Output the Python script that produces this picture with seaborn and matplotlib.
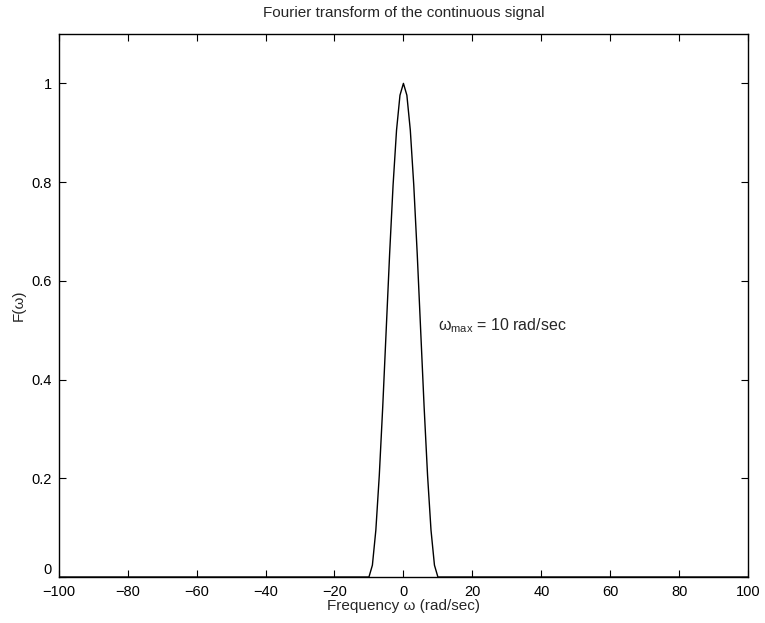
import matplotlib
matplotlib.use("Agg")
import matplotlib.pyplot as plt
import seaborn as sns
import pandas as pd

# Data (frequency in rad/sec, magnitude F(w))
omega = [-100, -10, -9, -8, -7, -6, -5, -4, -3, -2, -1, 0,
         1, 2, 3, 4, 5, 6, 7, 8, 9, 10, 100]
F_omega = [0.0, 0.0, 0.024, 0.095, 0.206, 0.345, 0.5, 0.655, 0.794, 0.905, 0.976, 1.0,
           0.976, 0.905, 0.794, 0.655, 0.5, 0.345, 0.206, 0.095, 0.024, 0.0, 0.0]
x_ticks = [-100, -80, -60, -40, -20, 0, 20, 40, 60, 80, 100]
y_ticks = [0, 0.2, 0.4, 0.6, 0.8, 1]
y_ticklabels = ["0", "0.2", "0.4", "0.6", "0.8", "1"]

sns.set_style("ticks")
plt.rcParams["font.family"] = ["Liberation Sans", "DejaVu Sans"]
plt.rcParams["mathtext.fontset"] = "custom"
plt.rcParams["mathtext.rm"] = "Liberation Sans"
plt.rcParams["mathtext.it"] = "Liberation Sans"
plt.rcParams["axes.unicode_minus"] = True

fig = plt.figure(figsize=(7.65, 6.23), dpi=100)
ax = fig.add_axes([0.0767, 0.0738, 0.978 - 0.0767, 0.9454 - 0.0738])

df = pd.DataFrame({"omega": omega, "F": F_omega})
sns.lineplot(data=df, x="omega", y="F", ax=ax, color="black", linewidth=1.0, sort=False)

ax.set_xlim(-100, 100)
ax.set_ylim(0, 1.1)
ax.set_xticks(x_ticks)
ax.set_xticklabels([("\u2212" + str(abs(v))) if v < 0 else str(v) for v in x_ticks])
ax.set_yticks(y_ticks)
ax.set_yticklabels(y_ticklabels)

for s in ax.spines.values():
    s.set_visible(True)
    s.set_linewidth(1.0)
    s.set_color("black")

ax.tick_params(direction="in", length=5, width=0.8, top=True, right=True,
               labelsize=10.5, colors="black")
ax.tick_params(axis="x", pad=6)
ax.tick_params(axis="y", pad=5)
# nudge the y "0" label up slightly so it does not collide with "-100"
ax.get_yticklabels()[0].set_va("bottom")

ax.set_title("Fourier transform of the continuous signal", fontsize=11, pad=12)
ax.set_xlabel("Frequency \u03c9 (rad/sec)", fontsize=11, labelpad=0)
ax.set_ylabel("F(\u03c9)", fontsize=11, labelpad=4)

ax.text(10, 0.5, r"$\omega_{\rm max}$ = 10 rad/sec", fontsize=11.5, va="baseline", ha="left")

fig.savefig("out.png", dpi=100)
